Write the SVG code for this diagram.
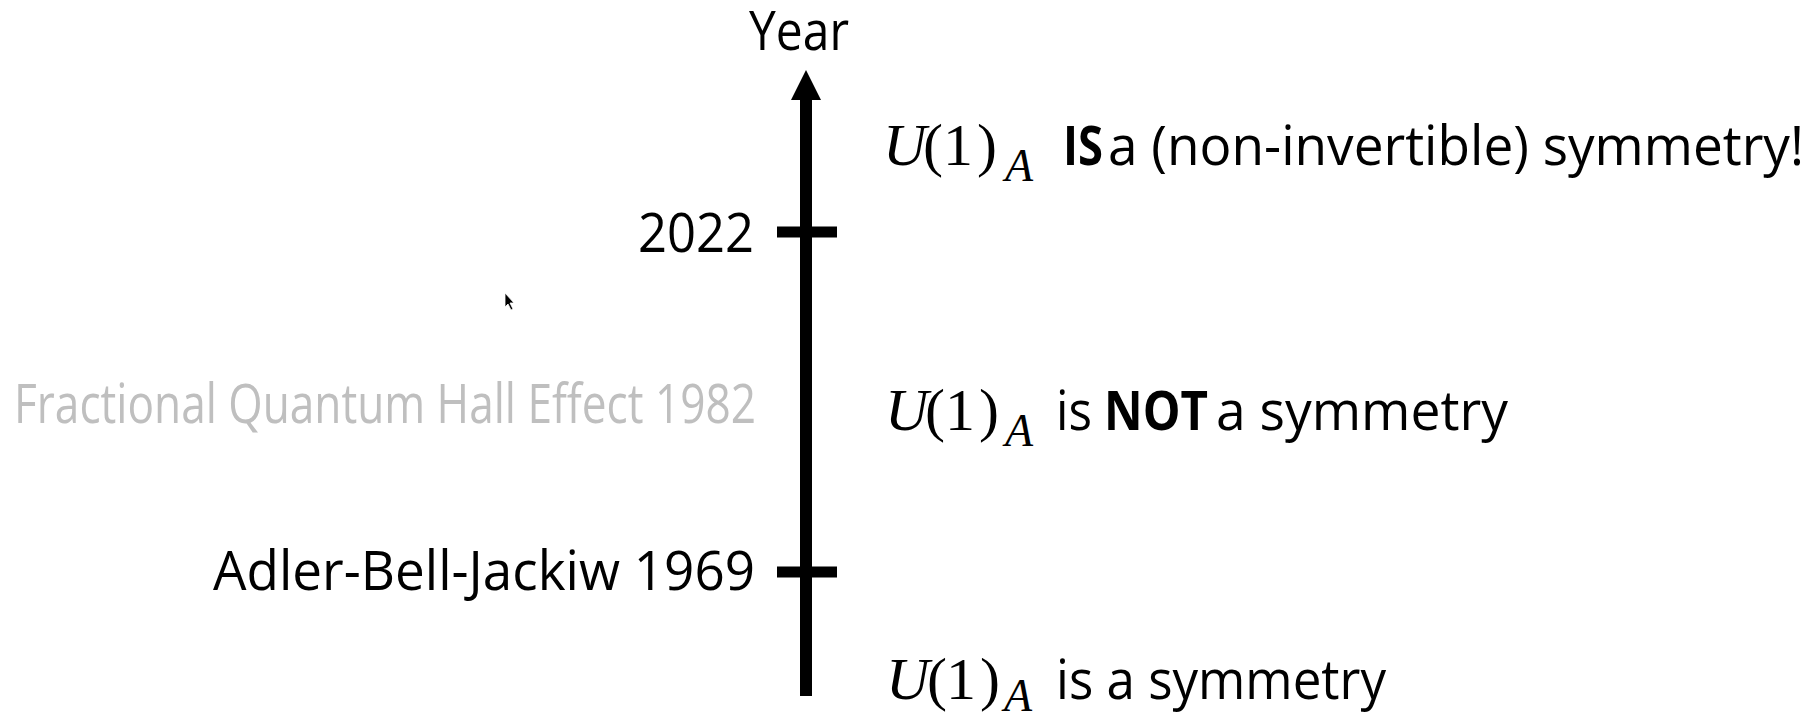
<svg xmlns="http://www.w3.org/2000/svg" width="1819" height="712" viewBox="0 0 1819 712">
  <style>
    .lbl { font-family: "Open Sans", "Liberation Sans", sans-serif; fill: #000; font-size: 54px; }
    .gray { fill: #bfbfbf; }
    .b { font-weight: bold; }
    .m { font-family: "Liberation Serif", "DejaVu Serif", serif; fill: #000; font-size: 60px; }
    .mi { font-style: italic; }
    .sub { font-family: "Liberation Serif", "DejaVu Serif", serif; font-style: italic; font-size: 46px; fill: #000; }
    .axis { stroke: #000; stroke-width: 12; fill: none; }
    .tick { stroke: #000; stroke-width: 11; }
  </style>
  <defs>
    <marker id="head" viewBox="0 0 30 30" refX="0" refY="15" markerWidth="30" markerHeight="30" markerUnits="userSpaceOnUse" orient="auto">
      <path d="M0,0 L30,15 L0,30 Z" fill="#000"/>
    </marker>
  </defs>
  <rect width="1819" height="712" fill="#fff"/>

  <g id="connectors">
    <line class="axis" x1="806" y1="696" x2="806" y2="100" marker-end="url(#head)"/>
    <line class="tick" x1="777" y1="232" x2="837" y2="232"/>
    <line class="tick" x1="777" y1="572" x2="837" y2="572"/>
  </g>

  <g id="year-label">
    <text class="lbl" x="799" y="50" font-size="52" text-anchor="middle" textLength="100" lengthAdjust="spacingAndGlyphs">Year</text>
  </g>

  <g id="tick-2022">
    <text class="lbl" x="754" y="252" text-anchor="end" textLength="116" lengthAdjust="spacingAndGlyphs">2022</text>
  </g>

  <g id="fqhe-1982">
    <text class="lbl gray" x="756" y="423" font-size="45" text-anchor="end" textLength="742" lengthAdjust="spacingAndGlyphs">Fractional Quantum Hall Effect 1982</text>
  </g>

  <g id="tick-1969">
    <text class="lbl" x="755" y="590" text-anchor="end" textLength="542" lengthAdjust="spacingAndGlyphs">Adler-Bell-Jackiw 1969</text>
  </g>

  <g id="state-2022">
    <text class="m mi" x="883" y="165">U</text>
    <text class="m" x="923" y="165">(</text>
    <text class="m" x="943" y="165">1</text>
    <text class="m" x="977" y="165">)</text>
    <text class="sub" x="1005" y="181">A</text>
    <text class="lbl b" x="1063" y="165" textLength="40" lengthAdjust="spacingAndGlyphs">IS</text>
    <text class="lbl" x="1108" y="165" textLength="696" lengthAdjust="spacingAndGlyphs">a (non-invertible) symmetry!</text>
  </g>

  <g id="state-1969">
    <text class="m mi" x="885" y="430">U</text>
    <text class="m" x="925" y="430">(</text>
    <text class="m" x="945" y="430">1</text>
    <text class="m" x="979" y="430">)</text>
    <text class="sub" x="1005" y="446">A</text>
    <text class="lbl" x="1056" y="430" textLength="36" lengthAdjust="spacingAndGlyphs">is</text>
    <text class="lbl b" x="1104" y="430" textLength="104" lengthAdjust="spacingAndGlyphs">NOT</text>
    <text class="lbl" x="1216" y="430" textLength="292" lengthAdjust="spacingAndGlyphs">a symmetry</text>
  </g>

  <g id="state-before">
    <text class="m mi" x="886" y="699">U</text>
    <text class="m" x="927" y="699">(</text>
    <text class="m" x="946" y="699">1</text>
    <text class="m" x="980" y="699">)</text>
    <text class="sub" x="1004" y="711">A</text>
    <text class="lbl" x="1056" y="699" textLength="330" lengthAdjust="spacingAndGlyphs">is a symmetry</text>
  </g>

  <g id="cursor">
    <path d="M505,293 L505,307 L508,304 L511,310 L513,309 L510,303 L514,303 Z" fill="#000" stroke="#fff" stroke-width="0.8"/>
  </g>
</svg>
